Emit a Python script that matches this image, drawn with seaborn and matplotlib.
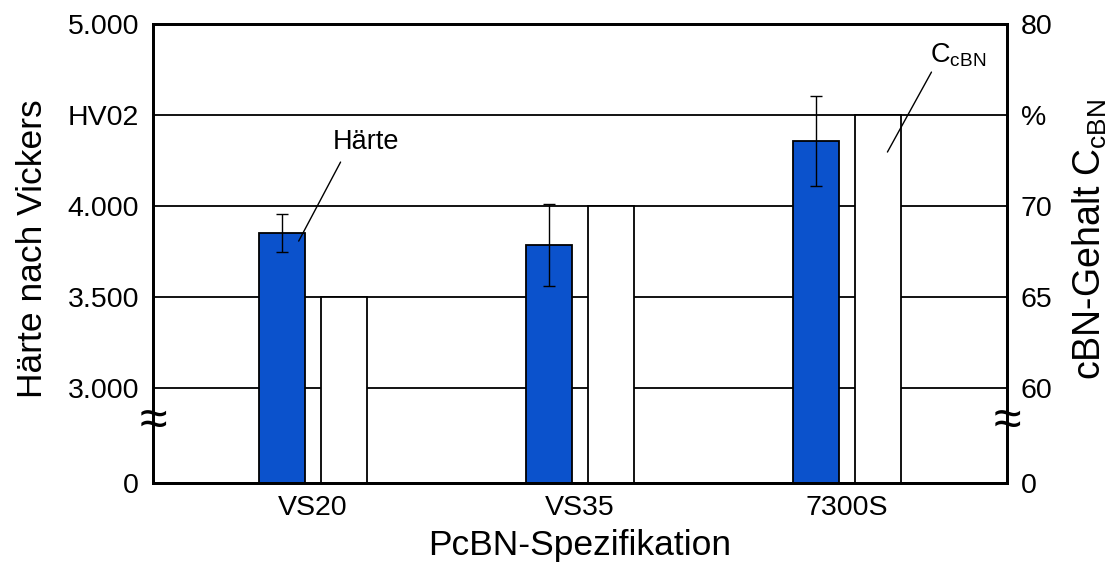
import numpy as np
import pandas as pd
import seaborn as sns
import matplotlib.pyplot as plt

# Werte
spezifikation = ['VS20', 'VS35', '7300S']
haerte = [3852, 3786, 4357]          # HV0,2
haerte_fehler = [105, 225, 245]
cbn_gehalt = [65, 70, 75]            # %

links_ticks = [0, 3000, 3500, 4000, 4500, 5000]
links_labels = ['0', '3.000', '3.500', '4.000', 'HV02', '5.000']
rechts_ticks = [0, 60, 65, 70, 75, 80]
rechts_labels = ['0', '60', '65', '70', '%', '80']

blau = '#0B52CC'

plt.rcParams['font.family'] = ['Liberation Sans', 'DejaVu Sans']
plt.rcParams['mathtext.fontset'] = 'custom'
plt.rcParams['mathtext.rm'] = 'Liberation Sans'


# unterbrochene Achse: 0..3000 (bzw. 0..60 %) wird zusammengestaucht
def fwd_l(v):
    v = np.asarray(v, dtype=float)
    return np.where(v >= 3000, v, 2480 + v * 520 / 3000)


def inv_l(p):
    p = np.asarray(p, dtype=float)
    return np.where(p >= 3000, p, (p - 2480) * 3000 / 520)


def fwd_r(v):
    v = np.asarray(v, dtype=float)
    return np.where(v >= 60, v, 54.8 + v * 5.2 / 60)


def inv_r(p):
    p = np.asarray(p, dtype=float)
    return np.where(p >= 60, p, (p - 54.8) * 60 / 5.2)


df_h = pd.DataFrame({'Spez': spezifikation, 'Reihe': 'Härte', 'Wert': haerte})
df_c = pd.DataFrame({'Spez': spezifikation, 'Reihe': 'cBN', 'Wert': cbn_gehalt})
farben = {'Härte': blau, 'cBN': 'white'}

fig, ax = plt.subplots(figsize=(11.1, 5.62), dpi=100)
fig.subplots_adjust(left=0.1378, right=0.9072, top=0.9573, bottom=0.1406)
ax2 = ax.twinx()

opts = dict(x='Spez', y='Wert', hue='Reihe', hue_order=['Härte', 'cBN'],
            order=spezifikation, palette=farben, width=0.46, gap=0.25,
            dodge=True, saturation=1, edgecolor='black', linewidth=1.3,
            errorbar=None, legend=False)
sns.barplot(data=df_h, ax=ax, **opts)
sns.barplot(data=df_c, ax=ax2, **opts)

ax.set_yscale('function', functions=(fwd_l, inv_l))
ax2.set_yscale('function', functions=(fwd_r, inv_r))
ax.set_ylim(0, 5000)
ax2.set_ylim(0, 80)
ax.set_xlim(-0.6, 2.6)

# Fehlerbalken an den blauen Balken
xs = sorted(p.get_x() + p.get_width() / 2 for p in ax.patches)
ax.errorbar(xs, haerte, yerr=haerte_fehler, fmt='none', ecolor='black',
            elinewidth=1, capsize=4, capthick=1, zorder=4)

ax.set_yticks(links_ticks)
ax.set_yticklabels(links_labels)
ax2.set_yticks(rechts_ticks)
ax2.set_yticklabels(rechts_labels)
ax.set_xticks(range(len(spezifikation)))
ax.set_xticklabels(spezifikation)

ax.set_axisbelow(True)
ax.yaxis.grid(True, color='black', linewidth=1.3)
ax.xaxis.grid(False)

ax.tick_params(axis='both', length=0, labelsize=20.5)
ax.tick_params(axis='y', pad=10)
ax.tick_params(axis='x', pad=9)
ax2.tick_params(axis='y', length=0, labelsize=20.5, pad=10)

for a in (ax, ax2):
    for s in a.spines.values():
        s.set_linewidth(2)
        s.set_color('black')

ax.set_xlabel('PcBN-Spezifikation', fontsize=25.5)
ax.xaxis.set_label_coords(0.5, -0.10)
ax.set_ylabel('Härte nach Vickers', fontsize=25.5)
ax.yaxis.set_label_coords(-0.122, 0.51)
ax2.set_ylabel(r'cBN-Gehalt C$_\mathrm{cBN}$', fontsize=27)
ax2.yaxis.set_label_coords(1.0745, 0.53)

# Bezugslinien und Beschriftungen
ax.annotate('', xy=(-0.054, 3808), xytext=(0.103, 4242),
            arrowprops=dict(arrowstyle='-', lw=1, color='black',
                            shrinkA=0, shrinkB=0))
ax.text(0.197, 4352, 'Härte', fontsize=19.5, ha='center', va='center')
ax2.annotate('', xy=(2.152, 72.97), xytext=(2.317, 77.36),
             arrowprops=dict(arrowstyle='-', lw=1, color='black',
                             shrinkA=0, shrinkB=0))
ax2.text(2.31, 78.3, r'C$_\mathrm{cBN}$', fontsize=19.5, ha='left', va='center')

# Achsenbruch-Zeichen
for xpos in (0, 1):
    ax2.text(xpos, 38.9, '≈', transform=ax2.get_yaxis_transform(),
             fontsize=36, ha='center', va='center', clip_on=False)

plt.savefig('out.png', dpi=100)
